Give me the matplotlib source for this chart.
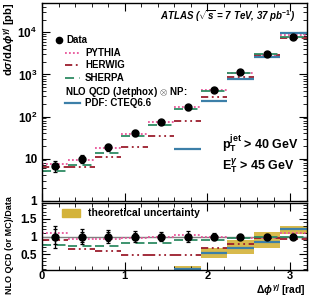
import matplotlib
matplotlib.use('Agg')
import matplotlib.pyplot as plt
import numpy as np
from matplotlib.ticker import FixedLocator, MultipleLocator, LogLocator, NullFormatter

plt.rcParams['font.family'] = ['Liberation Sans', 'DejaVu Sans']
plt.rcParams['font.weight'] = 'bold'
plt.rcParams['mathtext.fontset'] = 'custom'
plt.rcParams['mathtext.rm'] = 'Liberation Sans:bold'
plt.rcParams['mathtext.it'] = 'Liberation Sans:bold:italic'
plt.rcParams['mathtext.bf'] = 'Liberation Sans:bold'

# bins in delta phi (rad)
bin_edges = [0.0, 0.32, 0.64, 0.96, 1.28, 1.6, 1.92, 2.24, 2.56, 2.88, 3.2]

# measured cross section [pb] and relative errors
data_xs = [6.8, 9.8, 18.6, 41, 75, 165, 433, 1130, 3050, 7850]
err_tot = [0.31, 0.21, 0.19, 0.15, 0.12, 0.15, 0.11, 0.08, 0.07, 0.07]
err_stat = [0.20, 0.14, 0.12, 0.09, 0.07, 0.08, 0.05, 0.03, 0.02, 0.02]

# predictions / data
pythia_ratio = [1.10, 0.92, 0.94, 0.95, 1.00, 1.03, 1.00, 0.96, 0.95, 1.11]
herwig_ratio = [0.91, 0.64, 0.60, 0.47, 0.47, 0.48, 0.68, 0.78, 0.97, 0.93]
sherpa_ratio = [0.76, 0.73, 0.74, 0.83, 0.83, 0.91, 0.91, 0.95, 1.00, 0.98]
nlo_ratio = [np.nan, np.nan, np.nan, np.nan, np.nan, 0.10, 0.54, 0.69, 0.86, 1.20]
nlo_lo = [0.0, 0.0, 0.0, 0.0, 0.0, 0.03, 0.40, 0.52, 0.67, 1.08]
nlo_hi = [0.07, 0.07, 0.07, 0.07, 0.07, 0.16, 0.69, 0.90, 1.12, 1.29]

edges = np.array(bin_edges)
left, right = edges[:-1], edges[1:]
centers = 0.5 * (left + right)
data = np.array(data_xs)

c_pythia = '#e8559a'
c_herwig = '#9b1c2c'
c_sherpa = '#2e8b63'
c_nlo = '#3c7fa8'
c_band = '#d4b33a'

fig = plt.figure(figsize=(3.10, 2.99), dpi=100)
ax1 = fig.add_axes([0.1355, 0.329, 0.8535, 0.661])
ax2 = fig.add_axes([0.1355, 0.097, 0.8535, 0.2237])

styles = [
    (pythia_ratio, c_pythia, (0, (1, 1.2)), 'PYTHIA'),
    (herwig_ratio, c_herwig, (0, (4, 2, 1, 2, 1, 2)), 'HERWIG'),
    (sherpa_ratio, c_sherpa, (0, (5, 3)), 'SHERPA'),
]

# upper panel
for ratio, col, ls, lab in styles:
    ax1.hlines(data * np.array(ratio), left, right, colors=col, linestyles=ls, lw=1.3)
ax1.hlines(data * np.array(nlo_ratio), left, right, colors=c_nlo, lw=1.6)
ax1.errorbar(centers, data, yerr=data * np.array(err_tot), fmt='o', color='black',
             ms=5, elinewidth=0.9, capsize=1.5, capthick=0.9)
ax1.set_yscale('log')
ax1.set_xlim(0, 3.2)
ax1.set_ylim(1, 5e4)
ax1.yaxis.set_major_locator(FixedLocator([1, 10, 100, 1000, 10000]))
ax1.set_yticklabels(['1', '10', r'10$^{2}$', r'10$^{3}$', r'10$^{4}$'])
ax1.yaxis.set_minor_locator(LogLocator(base=10, subs=np.arange(2, 10)))
ax1.yaxis.set_minor_formatter(NullFormatter())
ax1.xaxis.set_major_locator(MultipleLocator(1))
ax1.xaxis.set_minor_locator(MultipleLocator(0.2))
ax1.set_xticklabels([])

# lower panel
band_h = np.array(nlo_hi) - np.array(nlo_lo)
ax2.bar(centers, band_h, bottom=nlo_lo, width=0.32, color=c_band, alpha=0.9, lw=0)
ax2.axhline(1, color='0.5', lw=1.0)
for ratio, col, ls, lab in styles:
    ax2.hlines(ratio, left, right, colors=col, linestyles=ls, lw=1.3)
ax2.hlines(nlo_ratio, left, right, colors=c_nlo, lw=1.6)
ones = np.ones(len(centers))
ax2.errorbar(centers, ones, yerr=err_tot, fmt='o', color='black', ms=5,
             elinewidth=0.9, capsize=1.5, capthick=0.9)
ax2.errorbar(centers, ones, yerr=err_stat, fmt='none', ecolor='black',
             elinewidth=0.9, capsize=1.5, capthick=0.9)
ax2.set_xlim(0, 3.2)
ax2.set_ylim(0.06, 1.94)
ax2.yaxis.set_major_locator(FixedLocator([0.5, 1, 1.5]))
ax2.set_yticklabels(['0.5', '1', '1.5'])
ax2.yaxis.set_minor_locator(MultipleLocator(0.1))
ax2.xaxis.set_major_locator(MultipleLocator(1))
ax2.xaxis.set_minor_locator(MultipleLocator(0.2))

for ax in (ax1, ax2):
    ax.tick_params(which='both', direction='in', top=True, right=True, labelsize=8.5)
    ax.tick_params(which='major', length=6, width=0.8)
    ax.tick_params(which='minor', length=3, width=0.6)
    for sp in ax.spines.values():
        sp.set_linewidth(1.0)
ax2.tick_params(axis='x', pad=1, labelsize=8)

# legend of upper panel, drawn by hand
ax1.plot([0.066], [0.813], 'o', color='black', ms=4.5, transform=ax1.transAxes)
ax1.text(0.092, 0.813, 'Data', transform=ax1.transAxes, fontsize=7, va='center')
leg_y = [0.747, 0.686, 0.621]
for (ratio, col, ls, lab), yy in zip(styles, leg_y):
    ax1.plot([0.087, 0.144], [yy, yy], color=col, ls=ls, lw=1.3, transform=ax1.transAxes)
    ax1.text(0.163, yy, lab, transform=ax1.transAxes, fontsize=7, va='center')
ax1.text(0.087, 0.55, r'NLO QCD (Jetphox) $\otimes$ NP:', transform=ax1.transAxes,
         fontsize=7, va='center')
ax1.plot([0.087, 0.144], [0.494, 0.494], color=c_nlo, lw=1.6, transform=ax1.transAxes)
ax1.text(0.163, 0.494, 'PDF: CTEQ6.6', transform=ax1.transAxes, fontsize=7, va='center')

ax1.text(0.958, 0.934, r'ATLAS ($\sqrt{s}$ = 7 TeV, 37 pb$^{-1}$)', transform=ax1.transAxes,
         fontsize=7, style='italic', ha='right', va='center')
ax1.text(0.68, 0.287, r'p$_{\mathrm{T}}^{\mathrm{jet}}$ > 40 GeV', transform=ax1.transAxes,
         fontsize=9, va='center')
ax1.text(0.68, 0.175, r'E$_{\mathrm{T}}^{\gamma}$ > 45 GeV', transform=ax1.transAxes,
         fontsize=9, va='center')

# legend of lower panel
ax2.add_patch(plt.Rectangle((0.075, 0.79), 0.07, 0.12, color=c_band, transform=ax2.transAxes))
ax2.text(0.174, 0.85, 'theoretical uncertainty', transform=ax2.transAxes, fontsize=7.5,
         va='center')

fig.text(0.985, 0.003, r'$\Delta\phi^{\gamma j}$ [rad]', ha='right', va='bottom',
         fontsize=7.5)
fig.text(0.03, 0.99, r'd$\sigma$/d$\Delta\phi^{\gamma j}$ [pb]', rotation=90,
         ha='center', va='top', fontsize=8)
fig.text(0.03, 1 - 196 / 299, 'NLO QCD (or MC)/Data', rotation=90, ha='center', va='top',
         fontsize=6.5)

fig.savefig('out.png', dpi=100)
